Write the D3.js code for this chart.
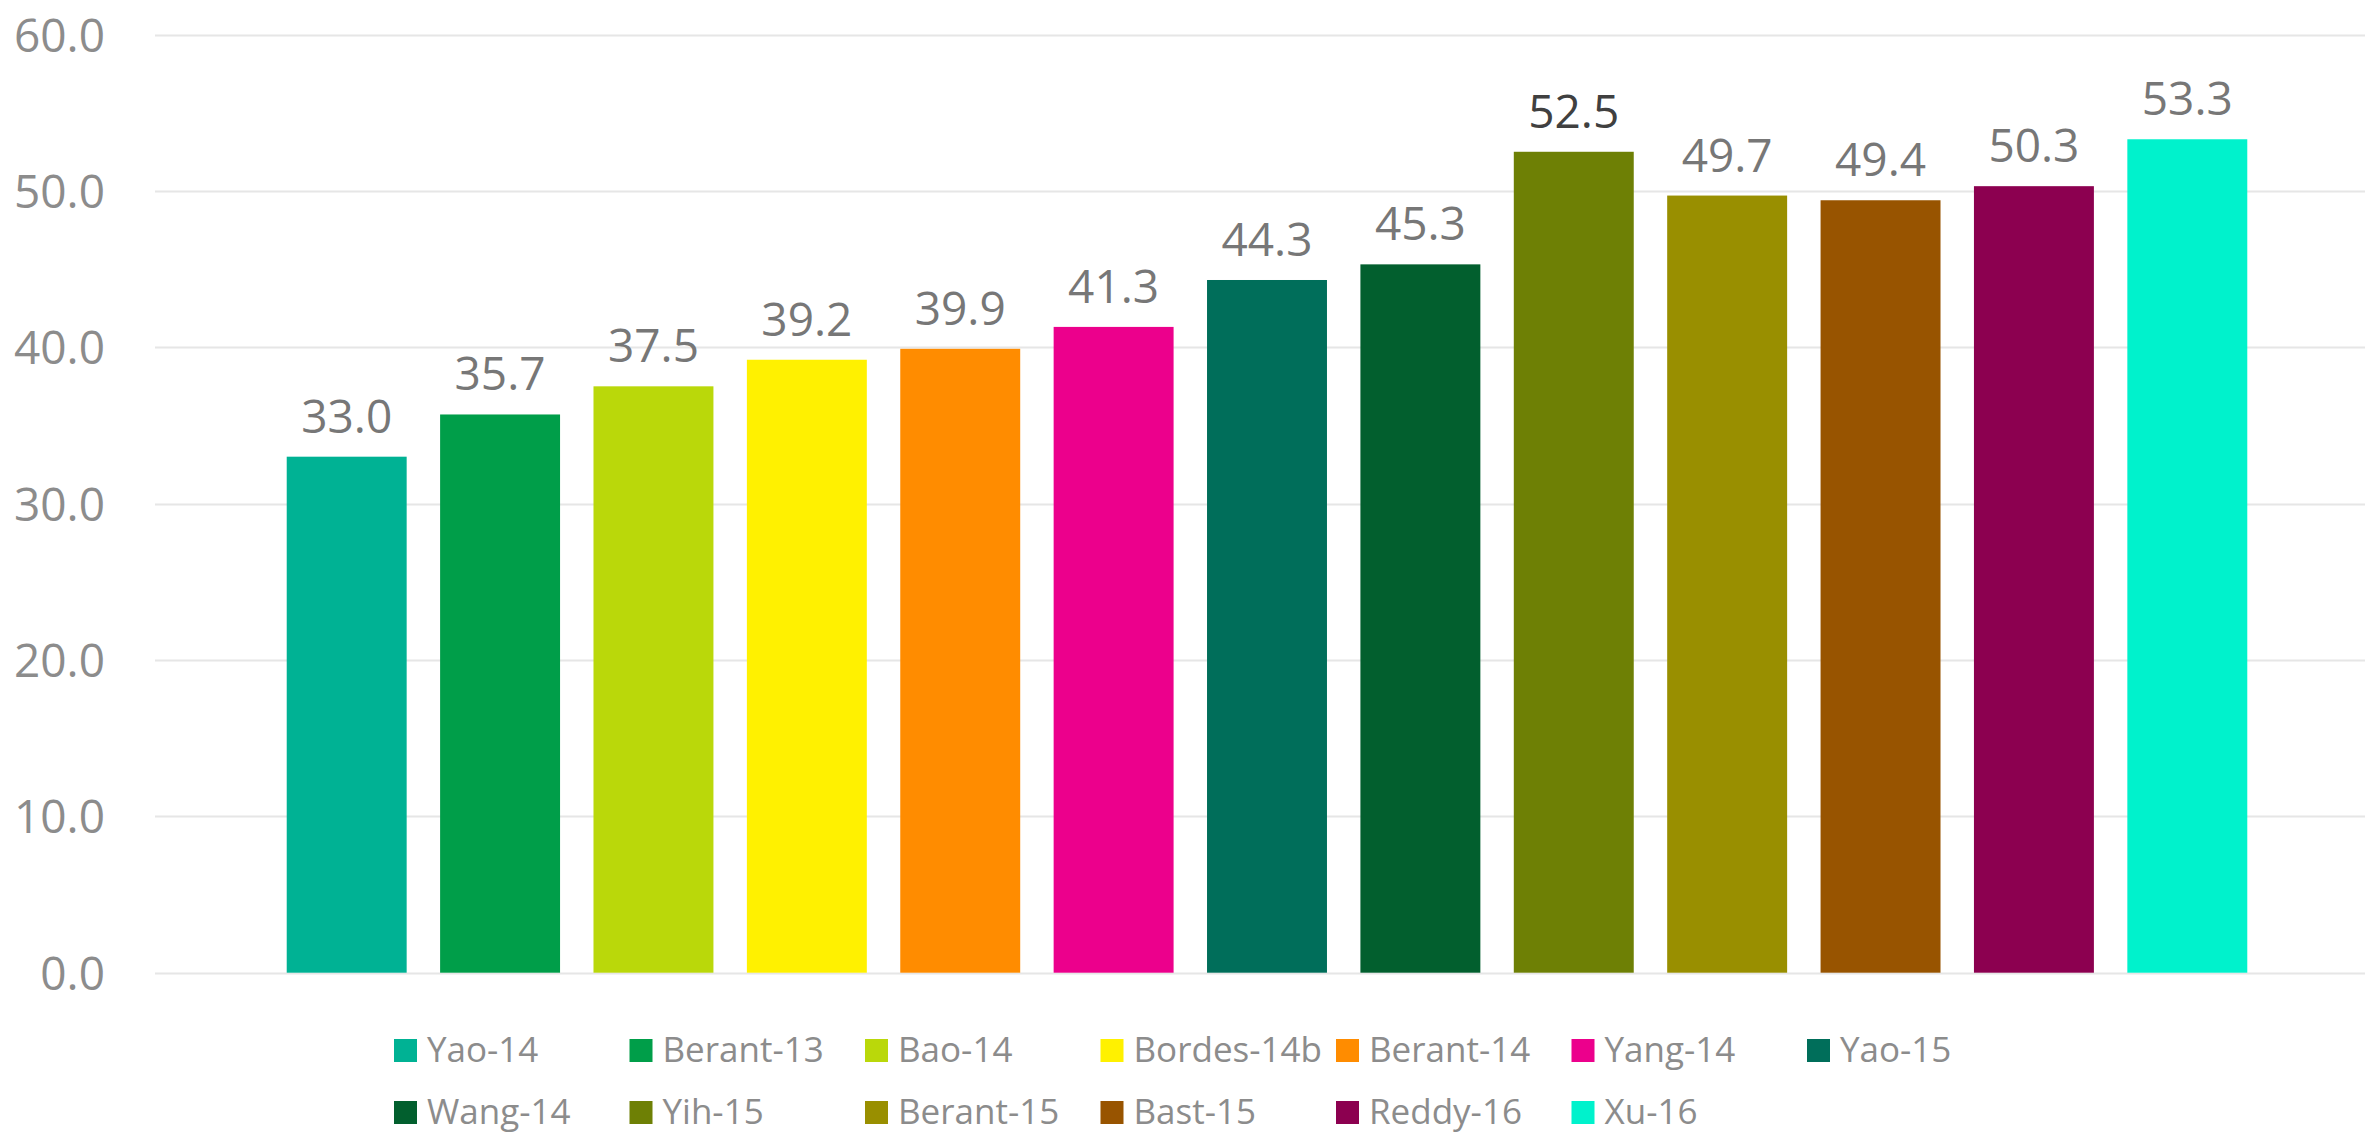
<!DOCTYPE html>
<html>
<head>
<meta charset="utf-8">
<script src="https://cdn.jsdelivr.net/npm/d3@7"></script>
<style>
  html, body { margin: 0; padding: 0; background: #ffffff; }
  svg { display: block; }
  text { font-family: "Open Sans", "Noto Sans", sans-serif; }
</style>
</head>
<body>
<svg id="chart" width="2365" height="1137"></svg>
<script>
const categories = ["Yao-14", "Berant-13", "Bao-14", "Bordes-14b", "Berant-14", "Yang-14", "Yao-15",
                    "Wang-14", "Yih-15", "Berant-15", "Bast-15", "Reddy-16", "Xu-16"];
const values = [33.0, 35.7, 37.5, 39.2, 39.9, 41.3, 44.3, 45.3, 52.5, 49.7, 49.4, 50.3, 53.3];
const colors = ["#00B294", "#009E49", "#BAD80A", "#FFF100", "#FF8C00", "#EC008C", "#006E5A",
                "#025F2E", "#6E8005", "#998F00", "#985400", "#8C0050", "#00F2CC"];
const yTicks = [0, 10, 20, 30, 40, 50, 60];
const highlighted = "Yih-15";

const svg = d3.select("#chart");
const W = 2365, H = 1137;

const y = d3.scaleLinear().domain([0, 60]).range([972.7, 34.5]);
const x = d3.scaleBand().domain(categories).range([270, 2264]).paddingInner(0.218).paddingOuter(0.109);

// gridlines
svg.append("g").selectAll("line").data(yTicks).join("line")
  .attr("x1", 155).attr("x2", W)
  .attr("y1", d => Math.round(y(d)) + 0.5).attr("y2", d => Math.round(y(d)) + 0.5)
  .attr("stroke", "#e6e6e6").attr("stroke-width", 2);

// y labels
svg.append("g").selectAll("text").data(yTicks).join("text")
  .attr("x", 105).attr("y", d => y(d) + 17)
  .attr("text-anchor", "end")
  .attr("font-size", 46)
  .attr("fill", "#8c8c8c")
  .text(d => d3.format(".1f")(d));

// bars
svg.append("g").selectAll("rect").data(categories).join("rect")
  .attr("x", d => x(d))
  .attr("width", x.bandwidth())
  .attr("y", (d, i) => y(values[i]))
  .attr("height", (d, i) => y(0) - y(values[i]))
  .attr("fill", (d, i) => colors[i]);

// value labels
svg.append("g").selectAll("text").data(categories).join("text")
  .attr("x", d => x(d) + x.bandwidth() / 2)
  .attr("y", (d, i) => y(values[i]) - 24)
  .attr("text-anchor", "middle")
  .attr("font-size", 46)
  .attr("fill", d => d === highlighted ? "#404040" : "#777777")
  .text((d, i) => d3.format(".1f")(values[i]));

// legend
const legX0 = 394, legStep = 235.5, legY0 = 1039, legRow = 62, perRow = 7;
const leg = svg.append("g").selectAll("g").data(categories).join("g")
  .attr("transform", (d, i) => `translate(${legX0 + (i % perRow) * legStep},${legY0 + Math.floor(i / perRow) * legRow})`);
leg.append("rect").attr("width", 23).attr("height", 23).attr("fill", (d, i) => colors[i]);
leg.append("text").attr("x", 33).attr("y", 23).attr("font-size", 35).attr("fill", "#8c8c8c").text(d => d);
</script>
</body>
</html>
